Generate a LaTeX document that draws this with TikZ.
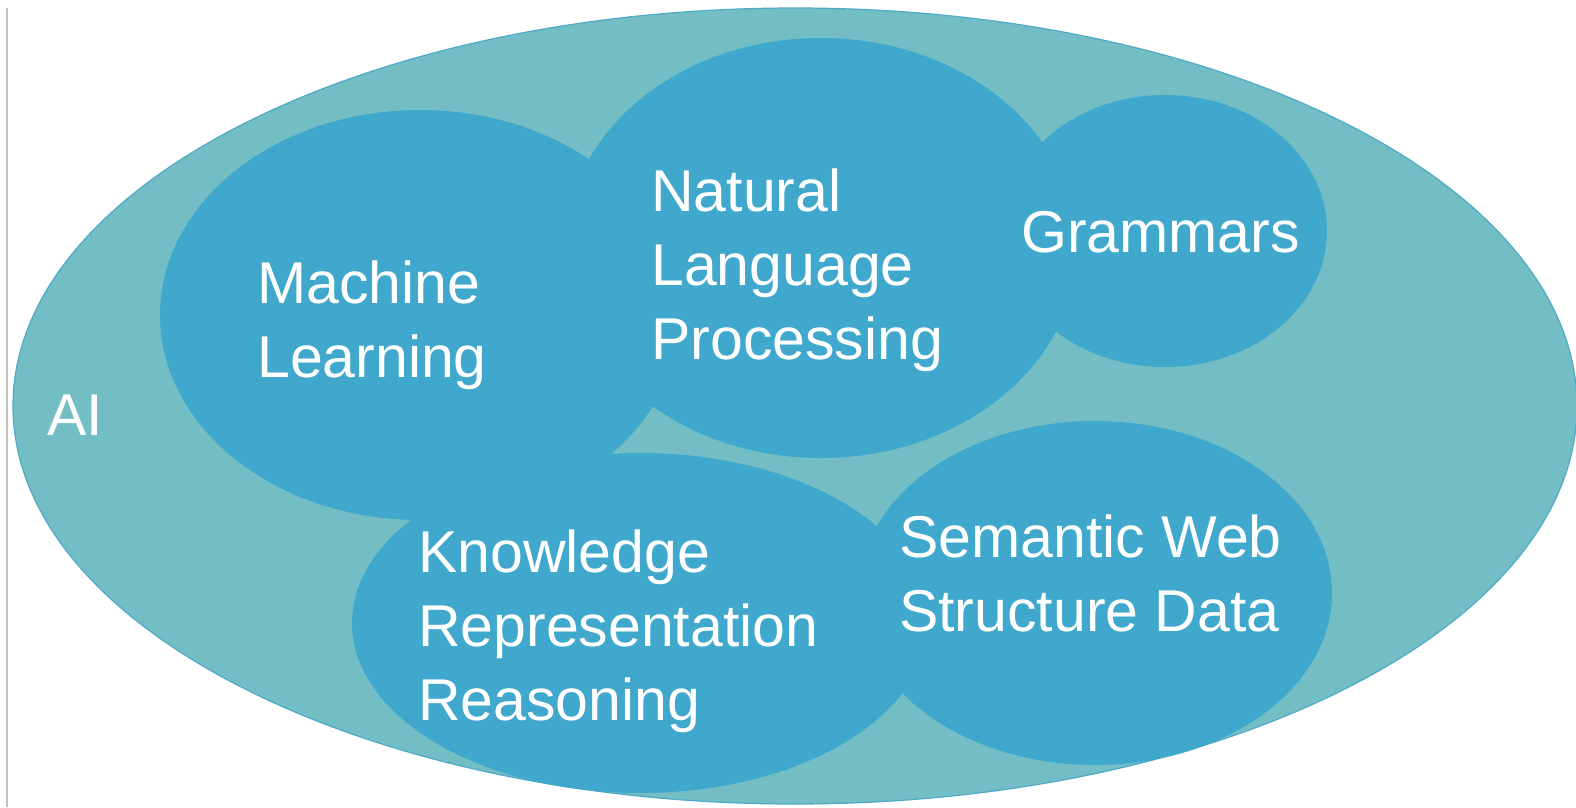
\documentclass[tikz,border=0pt]{standalone}
\usepackage{fontspec}
\setmainfont{Liberation Sans}
\usetikzlibrary{shapes.geometric}
\definecolor{aiteal}{RGB}{115,189,196}
\definecolor{aiedge}{RGB}{78,170,200}
\definecolor{topicblue}{RGB}{63,168,204}
\definecolor{frameline}{RGB}{192,192,192}
\begin{document}
\begin{tikzpicture}[x=1pt,y=-1pt,
  field/.style={ellipse,inner sep=0pt,fill=aiteal,draw=aiedge,line width=1.2pt},
  blob/.style={ellipse,inner sep=0pt,fill=topicblue,draw=none},
  % base anchor of a multi-line label sits on its last line
  label/.style={anchor=base west,inner sep=0pt,align=left,text=white,
    font=\fontsize{59}{74}\selectfont}]
\useasboundingbox (0,0) rectangle (1576,807);
\fill[white] (0,0) rectangle (1576,807);
% thin rule along the left side
\coordinate (ruletop) at (7,8);
\coordinate (rulebot) at (7,807);
\draw[frameline,line width=1.5pt] (ruletop) -- (rulebot);
% the AI field
\node[field,minimum width=1564pt,minimum height=796pt] (ai) at (795,406) {};
% sub-fields
\node[blob,minimum width=520pt,minimum height=410pt] (ml) at (420,315) {};
\node[blob,minimum width=512pt,minimum height=420pt] (nlp) at (821,248) {};
\node[blob,minimum width=324pt,minimum height=272pt] (gram) at (1165,231) {};
\node[blob,minimum width=576pt,minimum height=340pt] (kr) at (640,623) {};
\node[blob,minimum width=474pt,minimum height=344pt] (sw) at (1095,593) {};
% labels
\node[label] (aitext) at (47,435) {AI};
\node[label] (mltext) at (257,377) {Machine\\Learning};
\node[label] (nlptext) at (651,359) {Natural\\Language\\Processing};
\node[label] (gramtext) at (1021,252) {Grammars};
\node[label] (krtext) at (418,720) {Knowledge\\Representation\\Reasoning};
\node[label] (swtext) at (899,631) {Semantic Web\\Structure Data};
\end{tikzpicture}
\end{document}
